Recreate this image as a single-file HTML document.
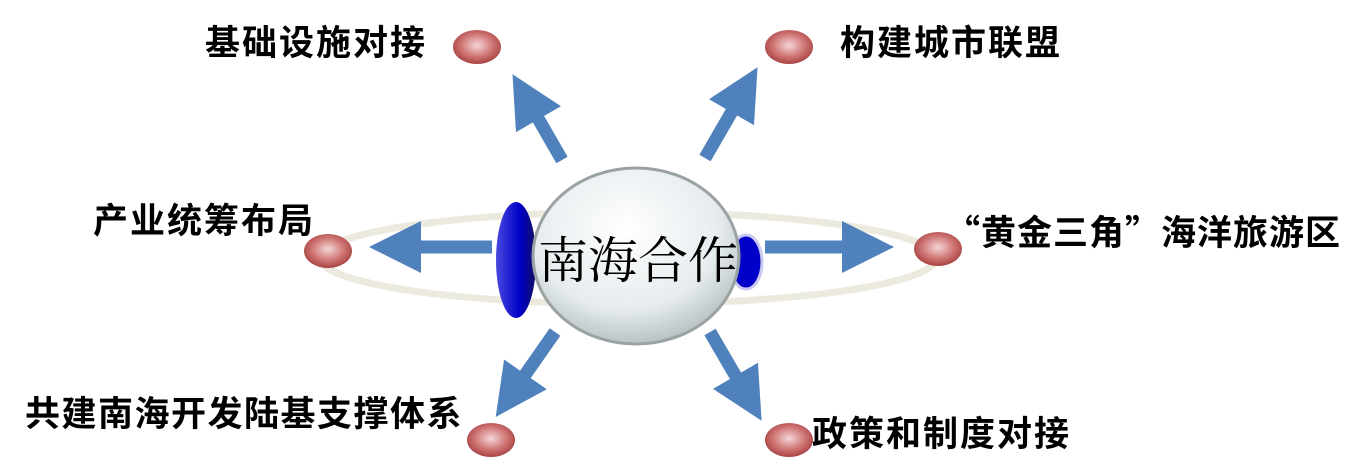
<!DOCTYPE html>
<html><head><meta charset="utf-8"><style>
body{margin:0;background:#fff;width:1368px;height:461px;overflow:hidden}
svg{display:block}
text{font-family:"Liberation Sans","Noto Sans CJK SC",sans-serif;font-weight:bold;font-size:35px;fill:#000;letter-spacing:2px}
</style></head><body>
<svg width="1368" height="461" viewBox="0 0 1368 461">
<defs>
<radialGradient id="rd" cx="50%" cy="45%" r="55%"><stop offset="0" stop-color="#f4d6d6"/><stop offset="0.6" stop-color="#d07575"/><stop offset="1" stop-color="#a84444"/></radialGradient>
<radialGradient id="gl" cx="45%" cy="35%" r="65%"><stop offset="0" stop-color="#ffffff"/><stop offset="0.7" stop-color="#e6ecee"/><stop offset="1" stop-color="#b9c2c4"/></radialGradient>
<linearGradient id="bl" x1="0" x2="1"><stop offset="0" stop-color="#4a4ae0"/><stop offset="0.6" stop-color="#0000c8"/><stop offset="1" stop-color="#101060"/></linearGradient>
<marker id="ah" markerWidth="4" markerHeight="4" refX="1" refY="2" orient="auto"><path d="M0,0L4,2L0,4z" fill="#4f81bd"/></marker>
</defs>
<ellipse cx="628" cy="258" rx="308" ry="46" fill="none" stroke="#ece9de" stroke-width="7"/>
<g stroke="#4f81bd" stroke-width="13" fill="none" marker-end="url(#ah)">
<line x1="492" y1="247" x2="408" y2="247"/>
<line x1="765" y1="247" x2="855" y2="247"/>
<line x1="562" y1="160" x2="532" y2="108"/>
<line x1="705" y1="158" x2="738" y2="101"/>
<line x1="555" y1="332" x2="518" y2="385"/>
<line x1="710" y1="332" x2="742" y2="387"/>
</g>
<ellipse cx="516" cy="260" rx="20" ry="58" fill="url(#bl)"/>
<ellipse cx="746" cy="262" rx="16" ry="27" fill="#0000c8" stroke="#c8c8f0" stroke-width="3"/>
<ellipse cx="636" cy="256" rx="103" ry="88" fill="url(#gl)" stroke="#9aa2a4" stroke-width="3"/>
<text x="538" y="278" style="font-family:'Liberation Serif','Noto Serif CJK SC',serif;font-weight:normal;font-size:50px;letter-spacing:0">南海合作</text>
<g fill="url(#rd)">
<ellipse cx="477" cy="47" rx="24" ry="17"/>
<ellipse cx="789" cy="47" rx="24" ry="17"/>
<ellipse cx="328" cy="251" rx="24" ry="17"/>
<ellipse cx="938" cy="249" rx="24" ry="17"/>
<ellipse cx="491" cy="440" rx="24" ry="17"/>
<ellipse cx="789" cy="440" rx="24" ry="17"/>
</g>
<text x="205" y="55">基础设施对接</text>
<text x="840" y="55">构建城市联盟</text>
<text x="93" y="233">产业统筹布局</text>
<text x="945" y="245" style="font-family:'Noto Sans CJK SC',sans-serif;letter-spacing:1px">“黄金三角”海洋旅游区</text>
<text x="25" y="426" style="letter-spacing:1.5px">共建南海开发陆基支撑体系</text>
<text x="812" y="446">政策和制度对接</text>
</svg>
</body></html>
